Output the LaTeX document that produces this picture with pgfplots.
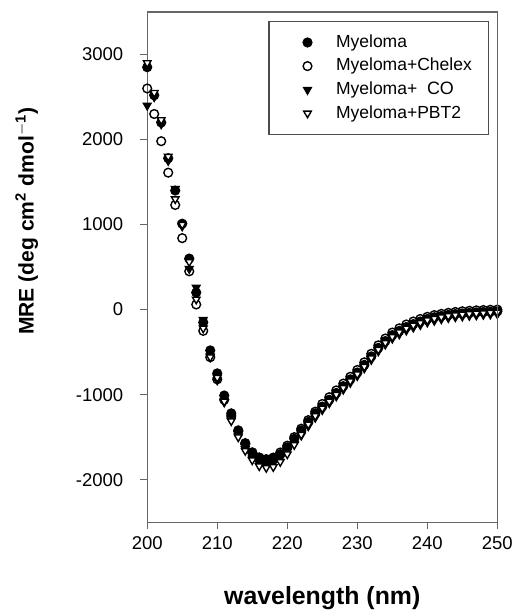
\documentclass[border=0pt]{standalone}
\usepackage{pgfplots}
\pgfplotsset{compat=1.18}
\usepackage{fontspec}
\setmainfont{Liberation Sans}

% CD spectra, MRE vs wavelength
\pgfplotstableread{
x    my     chel   co     pbt
200  2850   2600   2400   2900
201  2520   2300   2500   2550
202  2200   1980   2180   2230
203  1780   1610   1750   1800
204  1400   1230   1420   1300
205  1010   840    980    1000
206  600    450    480    560
207  200    60     260    120
208  -150   -250   -120   -220
209  -480   -560   -550   -560
210  -750   -820   -830   -800
211  -1010  -1060  -1090  -1080
212  -1220  -1250  -1300  -1310
213  -1420  -1430  -1490  -1500
214  -1570  -1580  -1640  -1660
215  -1680  -1680  -1750  -1770
216  -1740  -1740  -1810  -1840
217  -1760  -1760  -1830  -1860
218  -1750  -1740  -1810  -1850
219  -1700  -1680  -1750  -1790
220  -1620  -1600  -1670  -1700
221  -1520  -1500  -1580  -1590
222  -1420  -1400  -1480  -1470
223  -1320  -1300  -1370  -1350
224  -1220  -1200  -1270  -1250
225  -1140  -1110  -1180  -1160
226  -1060  -1030  -1100  -1080
227  -980   -950   -1020  -1000
228  -900   -870   -940   -920
229  -820   -790   -860   -840
230  -740   -710   -780   -760
231  -650   -620   -690   -670
232  -550   -520   -590   -570
233  -450   -420   -490   -470
234  -370   -340   -410   -390
235  -300   -270   -340   -320
236  -250   -220   -290   -265
237  -205   -175   -245   -220
238  -170   -140   -210   -185
239  -140   -110   -180   -155
240  -110   -85    -150   -125
241  -90    -65    -130   -105
242  -75    -50    -112   -88
243  -62    -38    -98    -75
244  -52    -28    -88    -65
245  -45    -20    -80    -57
246  -38    -14    -72    -50
247  -33    -9     -66    -45
248  -28    -5     -60    -40
249  -24    -2     -56    -36
250  -20    0      -52    -32
}\cd

\begin{document}
\begin{tikzpicture}
  \begin{axis}[
    name=main,
    scale only axis,
    width=176pt,
    height=256.5pt,
    xmin=200, xmax=250,
    ymin=-2500, ymax=3500,
    xtick={200,210,...,250},
    ytick={-2000,-1000,0,1000,2000,3000},
    axis lines=box,
    tick align=outside,
    tick pos=left,
    major tick length=3.5pt,
    axis line style={black!60, line width=0.7pt},
    every tick/.style={black!60, line width=0.7pt},
    tick label style={font=\fontsize{9.3}{11}\selectfont},
    yticklabel style={xshift=-5pt},
    /pgf/number format/assume math mode=true,
    /pgf/number format/set thousands separator={},
    xlabel={\bfseries wavelength (nm)},
    ylabel={\bfseries MRE (deg cm$^{\mathbf{2}}$ dmol$^{\mathbf{-1}}$)},
    xlabel style={font=\fontsize{12.5}{14}\selectfont,
      at={(axis description cs:0.5,-0.148)}, anchor=center},
    ylabel style={font=\fontsize{10.6}{12}\selectfont,
      at={(axis description cs:-0.344,0.59)}, anchor=center},
    clip=false,
    legend cell align=left,
    legend image code/.code={
      \path (-12.5pt,0pt) (12pt,0pt);
      \draw[#1] plot coordinates {(0pt,0pt)};
    },
    legend style={at={(0.977,0.982)}, anchor=north east,
      draw=black!70, line width=0.6pt,
      font=\fontsize{8.8}{9.5}\selectfont,
      inner xsep=6.5pt, inner ysep=4.5pt,
      row sep=0pt},
    every axis plot/.append style={only marks, mark size=2.2pt, line width=0.7pt},
  ]
    \addplot[mark=*, draw=black, fill=black] table[x=x, y=my] {\cd};
    \addplot[mark=o, draw=black, mark options={fill=white}] table[x=x, y=chel] {\cd};
    \addplot[mark=triangle*, draw=black, fill=black, mark options={rotate=180}] table[x=x, y=co] {\cd};
    \addplot[mark=triangle*, draw=black, mark options={rotate=180, fill=white}] table[x=x, y=pbt] {\cd};
    \legend{Myeloma, Myeloma+Chelex, Myeloma+\ \ {\small CO}, Myeloma+PBT2}
  \end{axis}
  \draw[black!60, line width=0.7pt] (main.south east) -- (main.north east);
  % page margins as in the reference
  \path (main.south west) ++(-74pt,-45.5pt);
  \path (main.north east) ++(10.5pt,6pt);
\end{tikzpicture}
\end{document}
